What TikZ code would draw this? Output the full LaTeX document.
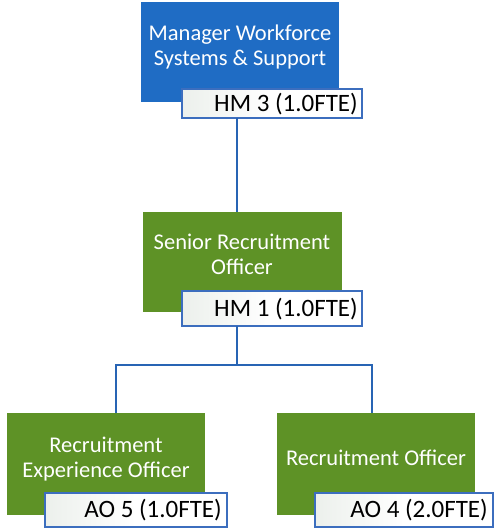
\documentclass[tikz,border=0pt]{standalone}
\usepackage{fontspec}
\setmainfont{Carlito}
\begin{document}
\begin{tikzpicture}[x=1pt,y=-1pt,
  role/.style={draw=none,inner sep=0pt,align=center,text=white,font=\fontsize{22.5}{25}\selectfont},
  lbltext/.style={inner sep=0pt,anchor=east,font=\fontsize{25}{27}\selectfont},
  lblbox/.style={draw=lblblue,line width=1.3pt,left color=lblgrey,right color=white,middle color=white},
  conn/.style={draw=lineblue,line width=1.8pt}]
\definecolor{boxblue}{RGB}{31,108,196}
\definecolor{boxgreen}{RGB}{94,146,38}
\definecolor{lblblue}{RGB}{60,110,190}
\definecolor{lineblue}{RGB}{40,100,180}
\definecolor{lblgrey}{RGB}{236,240,236}
\useasboundingbox (0,0) rectangle (495,529);
% top
\fill[boxblue] (141,2) rectangle (339,102);
\node[role] (t) at (240,47) {Manager Workforce\\Systems \& Support};
\draw[lblbox] (182,89) rectangle (362,118);
\node[lbltext] (tl) at (358,104) {HM 3 (1.0FTE)};
% middle
\fill[boxgreen] (143,212) rectangle (342,312);
\node[role] (m) at (242,254) {Senior Recruitment\\Officer};
\draw[lblbox] (182,291) rectangle (362,326);
\node[lbltext] (ml) at (358,309) {HM 1 (1.0FTE)};
% bottom left
\fill[boxgreen] (7,413) rectangle (205,515);
\node[role] (l) at (106,459) {Recruitment\\Experience Officer};
\draw[lblbox] (45,493) rectangle (227,527);
\node[lbltext] (ll) at (222,510) {AO 5 (1.0FTE)};
% bottom right
\fill[boxgreen] (277,413) rectangle (475,515);
\node[role] (r) at (376,458) {Recruitment Officer};
\draw[lblbox] (315,493) rectangle (493,527);
\node[lbltext] (rl) at (488,510) {AO 4 (2.0FTE)};
% connectors
\coordinate (a1) at (237,118);
\coordinate (a2) at (237,212);
\coordinate (b1) at (237,326);
\coordinate (b2) at (237,365);
\coordinate (c1) at (116,365);
\coordinate (c2) at (116,413);
\coordinate (d1) at (372,365);
\coordinate (d2) at (372,413);
\draw[conn] (a1) -- (a2);
\draw[conn] (b1) -- (b2);
\draw[conn] (c2) -- (c1) -- (d1) -- (d2);
\end{tikzpicture}
\end{document}
